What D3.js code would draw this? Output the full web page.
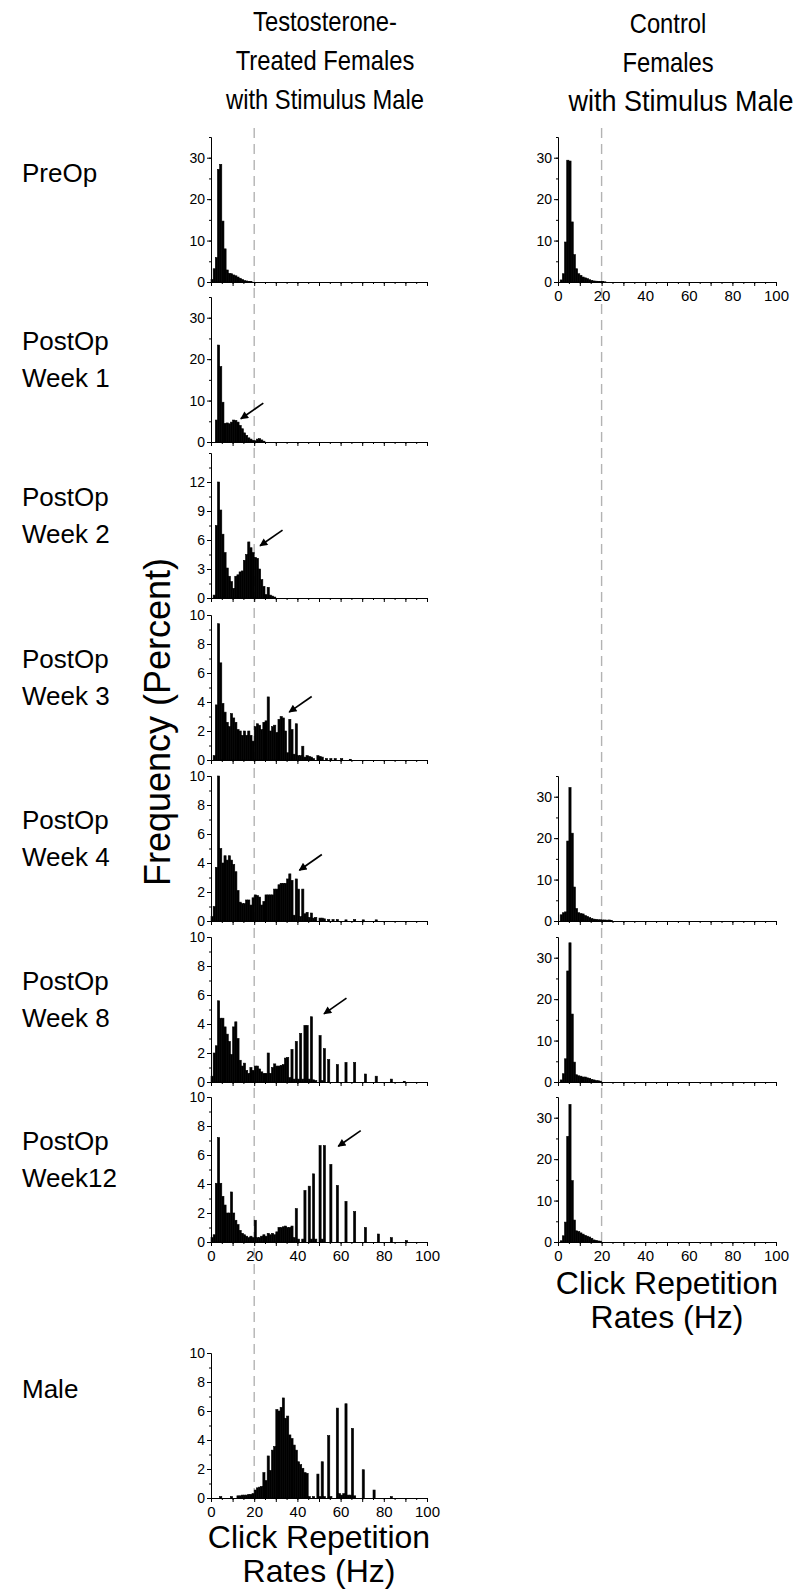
<!DOCTYPE html>
<html lang="en">
<head>
<meta charset="UTF-8" />
<title>click repetition rates</title>
<style>
  body { margin: 0; background: #fff; }
  svg { display: block; font-family: "Liberation Sans", Arial, sans-serif; }
  .bar { fill: #000; stroke: #000; stroke-width: 0.6; }
  .axis path, .axis line { stroke: #000; stroke-width: 1; }
  .axis text { font-size: 14px; fill: #000; }
  .xaxis text { font-size: 15px; }
  .dash { stroke: #b3b3b3; stroke-width: 1.4; stroke-dasharray: 10 6; fill: none; }
  .big { font-size: 27px; fill: #000; }
  .rowlab { font-size: 26px; fill: #000; }
  .axlab { font-size: 32px; fill: #000; }
</style>
</head>
<body>
<svg width="810" height="1592"></svg>
<script src="https://d3js.org/d3.v7.min.js"></script>
<script>
// ---- data: [click rate bin (Hz), percent] ----
const preOpTreated = [[0,0.6],[1,3.2],[2,5.9],[3,27.2],[4,28.4],[5,14.7],[6,8.0],[7,2.9],[8,2.1],[9,2.0],[10,1.7],[11,1.5],[12,1.2],[13,0.9],[14,0.6],[15,0.35],[16,0.25],[17,0.15],[18,0.1]];
const week1Treated = [[2,5.3],[3,23.4],[4,18.2],[5,9.6],[6,4.5],[7,4.6],[8,4.4],[9,4.8],[10,5.3],[11,5.2],[12,4.8],[13,4.0],[14,3.2],[15,2.2],[16,1.6],[17,1.0],[18,0.7],[19,0.4],[20,0.3],[21,0.7],[22,0.8],[23,0.5],[24,0.2]];
const week2Treated = [[1,0.3],[2,7.5],[3,12.0],[4,9.1],[5,6.6],[6,4.7],[7,3.1],[8,2.25],[9,1.7],[10,1.0],[11,2.25],[12,2.4],[13,2.7],[14,2.8],[15,3.9],[16,4.5],[17,5.8],[18,5.2],[19,4.7],[20,4.2],[21,4.1],[22,3.0],[23,1.9],[24,1.2],[25,0.35],[26,1.1],[27,0.3],[28,0.2],[29,0.1]];
const week3Treated = [[1,0.3],[2,3.8],[3,9.4],[4,6.7],[5,3.9],[6,3.3],[7,2.6],[8,2.3],[9,3.2],[10,2.9],[11,2.6],[12,2.1],[13,2.0],[14,1.7],[15,2.0],[16,1.7],[17,2.0],[18,1.7],[19,1.3],[20,2.3],[21,2.5],[22,2.4],[23,2.1],[24,2.6],[25,2.7],[26,4.35],[27,2.0],[28,2.3],[29,2.4],[30,1.9],[31,2.8],[32,3.0],[33,2.9],[34,2.0],[35,0.5],[36,2.8],[37,2.1],[38,0.4],[39,2.5],[40,0.3],[41,0.3],[42,0.95],[43,0.2],[44,0.3],[45,0.25],[46,0.2],[47,0.1],[49,0.3],[50,0.25],[51,0.2],[53,0.1],[55,0.1],[57,0.1],[60,0.1],[64,0.05]];
const week4Treated = [[0,0.3],[1,1.0],[2,3.7],[3,10.0],[4,5.0],[5,4.0],[6,4.5],[7,4.2],[8,4.5],[9,4.2],[10,3.9],[11,3.4],[12,2.1],[13,1.3],[14,1.2],[15,1.2],[16,1.45],[17,1.45],[18,1.1],[19,1.6],[20,1.8],[21,1.75],[22,1.65],[23,1.1],[24,1.35],[25,1.8],[26,1.8],[27,1.8],[28,1.8],[29,2.2],[30,2.2],[31,2.5],[32,2.6],[33,2.6],[34,2.6],[35,2.9],[36,3.25],[37,2.8],[38,0.4],[39,2.9],[40,2.2],[41,0.3],[42,2.2],[43,0.5],[44,0.6],[45,0.25],[46,0.55],[47,0.2],[48,0.25],[50,0.2],[51,0.2],[52,0.15],[54,0.1],[56,0.1],[58,0.1],[62,0.08],[66,0.1],[70,0.08],[76,0.08]];
const week8Treated = [[0,0.4],[1,2.0],[2,2.5],[3,5.6],[4,4.4],[5,4.4],[6,3.8],[7,3.3],[8,2.8],[9,1.9],[10,3.8],[11,4.15],[12,3.0],[13,1.5],[14,1.1],[15,1.3],[16,0.8],[17,0.6],[18,1.0],[19,0.8],[20,1.1],[21,1.1],[22,0.9],[23,0.7],[24,0.6],[25,0.6],[26,2.0],[27,0.6],[28,1.0],[29,1.25],[30,1.1],[31,1.1],[32,1.15],[33,1.2],[34,1.65],[35,1.7],[36,0.3],[37,2.25],[38,0.2],[39,2.8],[40,0.2],[41,3.35],[42,0.2],[43,3.9],[44,3.9],[45,0.2],[46,4.5],[47,0.15],[48,0.1],[50,3.2],[51,0.1],[52,2.3],[54,1.55],[58,1.2],[62,1.35],[66,1.35],[71,0.55],[76,0.4],[83,0.2],[89,0.05]];
const week12Treated = [[0,0.3],[1,0.5],[2,4.05],[3,7.2],[4,4.05],[5,3.15],[6,2.55],[7,2.0],[8,2.0],[9,3.45],[10,2.0],[11,1.5],[12,1.2],[13,0.8],[14,0.6],[15,0.5],[16,0.4],[17,0.3],[18,0.4],[19,0.3],[20,1.5],[21,0.3],[22,0.3],[23,0.4],[24,0.5],[25,0.4],[26,0.6],[27,0.5],[28,0.6],[29,0.5],[30,0.7],[31,1.0],[32,1.0],[33,1.05],[34,1.1],[35,1.0],[36,1.0],[37,1.1],[38,0.3],[39,2.3],[40,0.2],[42,0.2],[43,3.55],[45,3.85],[46,0.2],[47,4.7],[48,0.2],[50,6.65],[51,0.2],[52,6.65],[55,5.35],[58,3.9],[62,2.8],[66,2.1],[71,1.0],[77,0.55],[83,0.3],[90,0.1]];
const maleSong = [[4,0.1],[9,0.1],[12,0.15],[13,0.15],[14,0.2],[15,0.2],[16,0.2],[17,0.25],[18,0.25],[19,0.3],[20,0.55],[21,0.7],[22,0.75],[23,0.8],[24,1.75],[25,1.2],[26,2.9],[27,1.9],[28,3.3],[29,3.55],[30,6.1],[31,6.0],[32,6.25],[33,6.9],[34,5.5],[35,5.65],[36,4.35],[37,4.1],[38,3.65],[39,3.3],[40,2.5],[41,2.3],[42,2.05],[43,1.75],[44,1.7],[45,0.1],[47,0.1],[49,1.65],[50,0.1],[51,2.5],[52,0.1],[54,4.3],[55,0.1],[58,6.2],[59,0.3],[60,0.2],[61,0.3],[62,6.5],[63,0.2],[64,0.2],[65,4.8],[66,0.15],[70,1.95],[75,0.55],[83,0.1]];

const preOpControl = [[1,0.5],[2,2.0],[3,9.65],[4,29.4],[5,29.2],[6,14.5],[7,6.6],[8,3.2],[9,2.0],[10,1.6],[11,1.2],[12,1.0],[13,0.8],[14,0.55],[15,0.4],[16,0.25],[17,0.2],[18,0.15],[19,0.1],[20,0.1],[21,0.05]];
const week4Control = [[1,1.5],[2,2.0],[3,2.2],[4,19.3],[5,32.2],[6,21.2],[7,8.2],[8,3.0],[9,2.0],[10,1.8],[11,1.7],[12,1.3],[13,1.1],[14,0.8],[15,0.6],[16,0.45],[17,0.4],[18,0.3],[19,0.3],[20,0.25],[21,0.25],[22,0.2],[23,0.25],[24,0.1]];
const week8Control = [[1,0.5],[2,2.0],[3,5.6],[4,26.8],[5,33.6],[6,16.4],[7,4.8],[8,1.75],[9,1.5],[10,1.4],[11,1.2],[12,1.2],[13,1.0],[14,0.9],[15,0.65],[16,0.5],[17,0.35],[18,0.3],[19,0.2]];
const week12Control = [[1,0.3],[2,1.5],[3,4.8],[4,25.5],[5,33.2],[6,14.8],[7,5.3],[8,2.7],[9,2.5],[10,2.2],[11,1.9],[12,1.6],[13,1.4],[14,1.2],[15,0.9],[16,0.5],[17,0.4],[18,0.25],[19,0.2]];

// arrow tips [Hz, percent], null = no arrow
const arrowTips = [null, [13.8,5.6], [22.7,5.4], [36.2,3.3], [40.9,3.5], [52.3,4.7], [58.9,6.6]];

// tick labels
const xTicks = [0, 20, 40, 60, 80, 100];
const yTicks35 = [0, 10, 20, 30];
const yTicks15 = [0, 3, 6, 9, 12];
const yTicks10 = [0, 2, 4, 6, 8, 10];

const rowLabels = [["PreOp"], ["PostOp", "Week 1"], ["PostOp", "Week 2"], ["PostOp", "Week 3"],
  ["PostOp", "Week 4"], ["PostOp", "Week 8"], ["PostOp", "Week12"]];
const leftTitle = ["Testosterone-", "Treated Females", "with Stimulus Male"];
const rightTitle = ["Control", "Females", "with Stimulus Male"];
const xTitle = ["Click Repetition", "Rates (Hz)"];
const yTitle = "Frequency (Percent)";

const rows = [
  { left: preOpTreated, right: preOpControl, yMax: 35, ticks: yTicks35, minor: 5 },
  { left: week1Treated, right: null, yMax: 35, ticks: yTicks35, minor: 5 },
  { left: week2Treated, right: null, yMax: 15, ticks: yTicks15, minor: 1.5 },
  { left: week3Treated, right: null, yMax: 10, ticks: yTicks10, minor: 1 },
  { left: week4Treated, right: week4Control, yMax: 10, ticks: yTicks10, minor: 1 },
  { left: week8Treated, right: week8Control, yMax: 10, ticks: yTicks10, minor: 1 },
  { left: week12Treated, right: week12Control, yMax: 10, ticks: yTicks10, minor: 1 },
];

// ---- layout ----
const svg = d3.select("svg");
const leftRange = [211, 427], rightRange = [558, 776];
const panelH = 145;
const rowBase = [282, 442, 598, 760, 921, 1082, 1242];
const maleBase = 1498;
const xL = d3.scaleLinear().domain([0, 100]).range(leftRange);
const xR = d3.scaleLinear().domain([0, 100]).range(rightRange);

svg.append("defs").append("marker")
  .attr("id", "head").attr("viewBox", "0 0 10 10")
  .attr("refX", 9).attr("refY", 5)
  .attr("markerWidth", 10).attr("markerHeight", 8)
  .attr("markerUnits", "userSpaceOnUse").attr("orient", "auto")
  .append("path").attr("d", "M0,0L10,5L0,10z").attr("fill", "#000");

// dashed 20 Hz reference lines
svg.append("line").attr("class", "dash")
  .attr("x1", xL(20)).attr("x2", xL(20)).attr("y1", 128).attr("y2", maleBase);
svg.append("line").attr("class", "dash")
  .attr("x1", xR(20)).attr("x2", xR(20)).attr("y1", 128).attr("y2", rowBase[6]);

// the figure's lettering is a bit narrow, so some texts get squeezed
function label(x, y, t, cls, anchor, sx, size) {
  const el = svg.append("text").attr("class", cls).attr("text-anchor", anchor)
    .attr("transform", `translate(${x},${y}) scale(${sx},1)`).text(t);
  if (size) el.style("font-size", size + "px");
}

function drawPanel(data, x, base, yMax, ticks, minor, showX, tip) {
  const g = svg.append("g");
  const y = d3.scaleLinear().domain([0, yMax]).range([base, base - panelH]);

  g.append("g").selectAll("rect").data(data).join("rect")
    .attr("class", "bar")
    .attr("x", d => x(d[0]))
    .attr("width", d => x(d[0] + 1) - x(d[0]))
    .attr("y", d => y(d[1]))
    .attr("height", d => base - y(d[1]));

  const x0 = x.range()[0];
  g.append("g").attr("class", "axis").attr("transform", `translate(${x0},0)`)
    .call(d3.axisLeft(y).tickValues(d3.range(0, yMax + 1e-6, minor))
      .tickSize(2).tickSizeOuter(0).tickFormat(""));
  g.append("g").attr("class", "axis").attr("transform", `translate(${x0},0)`)
    .call(d3.axisLeft(y).tickValues(ticks).tickSize(4).tickSizeOuter(0).tickPadding(2));

  g.append("g").attr("class", "axis").attr("transform", `translate(0,${base})`)
    .call(d3.axisBottom(x).tickValues(d3.range(0, 101, 5)).tickSize(2).tickSizeOuter(0).tickFormat(""));
  g.append("g").attr("class", "axis xaxis").attr("transform", `translate(0,${base})`)
    .call(d3.axisBottom(x).tickValues(d3.range(0, 101, 10)).tickSize(4).tickSizeOuter(0)
      .tickPadding(4).tickFormat(d => showX && xTicks.includes(d) ? d : ""));

  if (tip) {
    const tx = x(tip[0]), ty = y(tip[1]);
    g.append("line")
      .attr("x1", tx + 22.5).attr("y1", ty - 15.7).attr("x2", tx).attr("y2", ty)
      .attr("stroke", "#000").attr("stroke-width", 1.7).attr("marker-end", "url(#head)");
  }
}

rows.forEach((r, i) => {
  drawPanel(r.left, xL, rowBase[i], r.yMax, r.ticks, r.minor, i === 6, arrowTips[i]);
  // control females are all on the 0-35 % scale
  if (r.right) drawPanel(r.right, xR, rowBase[i], 35, yTicks35, 5, i === 0 || i === 6, null);

  const top = rowBase[i] - panelH;
  const lines = rowLabels[i];
  lines.forEach((t, k) => {
    label(22, lines.length === 1 ? top + 45 : top + 53 + k * 37, t, "rowlab", "start", 1);
  });
});

drawPanel(maleSong, xL, maleBase, 10, yTicks10, 1, true, null);
label(22, maleBase - 100, "Male", "rowlab", "start", 1);

// titles
leftTitle.forEach((t, k) => label(325, 31 + k * 39, t, "big", "middle", 0.88));
rightTitle.forEach((t, k) => {
  if (k === 2) label(681, 111, t, "big", "middle", 0.9, 30);
  else label(668, 33 + k * 39, t, "big", "middle", 0.88);
});

xTitle.forEach((t, k) => {
  label(d3.mean(leftRange), 1548 + k * 34, t, "axlab", "middle", 1);
  label(d3.mean(rightRange), rowBase[6] + 52 + k * 34, t, "axlab", "middle", 1);
});

svg.append("text").attr("class", "axlab").attr("text-anchor", "middle")
  .style("font-size", "36px")
  .attr("transform", "translate(170,722) rotate(-90)").text(yTitle);
</script>
</body>
</html>
